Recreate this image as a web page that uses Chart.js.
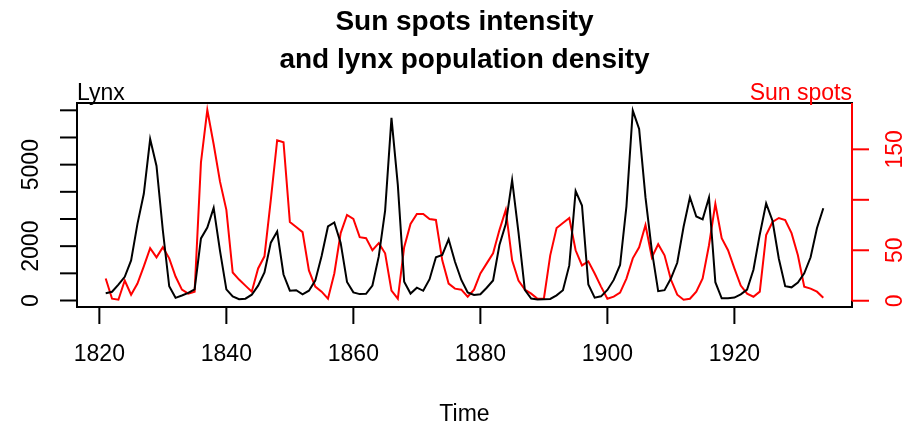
<!DOCTYPE html>
<html>
<head>
<meta charset="utf-8">
<script src="https://cdn.jsdelivr.net/npm/chart.js@4.4.0/dist/chart.umd.min.js"></script>
<style>
  html, body { margin: 0; background: #fff; }
</style>
</head>
<body>
<canvas id="chart" width="916" height="428"></canvas>
<script>
// yearly series, 1821 - 1934
const startYear = 1821;

const lynx = [269, 321, 585, 871, 1475, 2821, 3928, 5943, 4950, 2577, 523, 98, 184, 279, 409,
  2285, 2685, 3409, 1824, 409, 151, 45, 68, 213, 546, 1033, 2129, 2536, 957, 361, 377, 225, 360,
  731, 1638, 2725, 2871, 2119, 684, 299, 236, 245, 552, 1623, 3311, 6721, 4254, 687, 255, 473,
  358, 784, 1594, 1676, 2251, 1426, 756, 299, 201, 229, 469, 736, 2042, 2811, 4431, 2511, 389,
  73, 39, 49, 59, 188, 377, 1292, 4031, 3495, 587, 105, 153, 387, 758, 1307, 3465, 6991, 6313,
  3794, 1836, 345, 382, 808, 1388, 2713, 3800, 3091, 2985, 3790, 674, 81, 80, 108, 229, 399,
  1132, 2432, 3574, 2935, 1537, 529, 485, 662, 1000, 1590, 2657, 3396];

const sunSpots = [22, 2, 1, 20, 6, 17, 34, 52, 43, 53, 42, 24, 11, 7, 9,
  137, 189, 155, 118, 90, 28, 21, 15, 9, 32, 44, 100, 159, 157, 78, 73, 68, 30, 14, 9, 2, 27,
  67, 85, 81, 63, 62, 50, 57, 47, 10, 2, 53, 76, 86, 86, 81, 80, 40, 17, 12, 11, 4, 11, 27,
  37, 47, 70, 90, 40, 20, 11, 7, 2, 2, 45, 72, 77, 82, 50, 35, 39, 27, 14, 2, 4, 8, 22, 42,
  53, 75, 43, 56, 45, 21, 6, 1, 2, 9, 22, 55, 96, 62, 50, 32, 15, 7, 4, 9, 65, 78, 82, 80,
  67, 45, 14, 12, 9, 3];

const yearTicks = [1820, 1840, 1860, 1880, 1900, 1920];
const lynxTicks = [0, 1000, 2000, 3000, 4000, 5000, 6000, 7000];
const lynxLabelled = [0, 2000, 5000];
const sunTicks = [0, 50, 100, 150];
const sunLabelled = [0, 50, 150];

const RED = "#ff0000";
const FONT = '"Liberation Sans", Arial, sans-serif';

function txt(ctx, s, x, y, opts) {
  ctx.save();
  ctx.translate(x, y);
  if (opts.rot) ctx.rotate(opts.rot);
  ctx.font = opts.font;
  ctx.fillStyle = opts.color || "#000";
  ctx.textAlign = opts.align || "center";
  ctx.textBaseline = opts.base || "middle";
  ctx.fillText(s, 0, 0);
  ctx.restore();
}

// R style frame, axes and titles
const rFrame = {
  id: "rFrame",
  afterDraw(chart) {
    const ctx = chart.ctx;
    const { left, right, top, bottom } = chart.chartArea;
    const sx = chart.scales.x, sy = chart.scales.y, sy2 = chart.scales.y2;
    const tick = 17;
    const axisFont = "23px " + FONT;

    ctx.save();
    ctx.lineWidth = 2;
    ctx.strokeStyle = "#000";
    ctx.strokeRect(left, top, right - left, bottom - top);

    // bottom axis
    yearTicks.forEach(t => {
      const px = sx.getPixelForValue(t);
      ctx.beginPath();
      ctx.moveTo(px, bottom);
      ctx.lineTo(px, bottom + tick);
      ctx.stroke();
      txt(ctx, String(t), px, 355, { font: axisFont });
    });

    // left axis (lynx)
    lynxTicks.forEach(t => {
      const py = sy.getPixelForValue(t);
      ctx.beginPath();
      ctx.moveTo(left - tick, py);
      ctx.lineTo(left, py);
      ctx.stroke();
      if (lynxLabelled.includes(t))
        txt(ctx, String(t), 32, py, { font: axisFont, rot: -Math.PI / 2 });
    });

    // right axis (sun spots)
    ctx.strokeStyle = RED;
    ctx.beginPath();
    ctx.moveTo(right, top);
    ctx.lineTo(right, sy2.getPixelForValue(0));
    ctx.stroke();
    sunTicks.forEach(t => {
      const py = sy2.getPixelForValue(t);
      ctx.beginPath();
      ctx.moveTo(right, py);
      ctx.lineTo(right + tick, py);
      ctx.stroke();
      if (sunLabelled.includes(t))
        txt(ctx, String(t), 896, py, { font: axisFont, rot: -Math.PI / 2, color: RED });
    });
    ctx.restore();

    txt(ctx, "Lynx", left, 100, { font: axisFont, align: "left", base: "alphabetic" });
    txt(ctx, "Sun spots", right, 100, { font: axisFont, align: "right", base: "alphabetic", color: RED });
    txt(ctx, "Time", (left + right) / 2, 415, { font: axisFont });

    const titleFont = "bold 28px " + FONT;
    txt(ctx, "Sun spots intensity", (left + right) / 2, 30, { font: titleFont, base: "alphabetic" });
    txt(ctx, "and lynx population density", (left + right) / 2, 68, { font: titleFont, base: "alphabetic" });
  }
};

new Chart(document.getElementById("chart").getContext("2d"), {
  type: "line",
  data: {
    datasets: [
      {
        label: "Lynx",
        data: lynx.map((v, i) => ({ x: startYear + i, y: v })),
        borderColor: "#000",
        borderWidth: 2,
        pointRadius: 0,
        tension: 0,
        yAxisID: "y"
      },
      {
        label: "Sun spots",
        data: sunSpots.map((v, i) => ({ x: startYear + i, y: v })),
        borderColor: RED,
        borderWidth: 2,
        pointRadius: 0,
        tension: 0,
        yAxisID: "y2"
      }
    ]
  },
  options: {
    responsive: false,
    animation: false,
    layout: { padding: { left: 77, right: 64, top: 103, bottom: 121 } },
    plugins: { legend: { display: false }, tooltip: { enabled: false } },
    scales: {
      x: { type: "linear", display: false, min: 1816.48, max: 1938.52 },
      y: { display: false, min: -239.08, max: 7269.08 },
      y2: { display: false, position: "right", min: -6.2, max: 195.9 }
    }
  },
  plugins: [rFrame]
});
</script>
</body>
</html>
